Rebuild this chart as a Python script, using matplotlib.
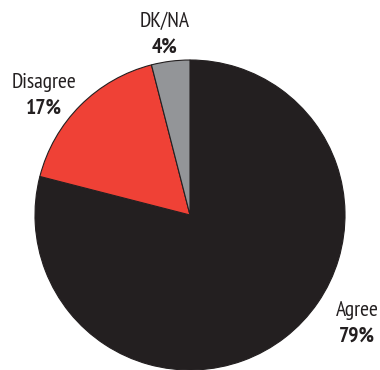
import matplotlib
matplotlib.use("Agg")
import matplotlib.pyplot as plt

# Survey response shares (%)
labels = ['Agree', 'Disagree', 'DK/NA']
shares = [79, 17, 4]
colors = ['#231f20', '#ef4136', '#939598']

W, H = 380, 370
FONT = ['PT Sans Narrow', 'DejaVu Sans']


def make_pie():
    fig = plt.figure(figsize=(W / 100, H / 100), dpi=100)
    ax = fig.add_axes([0, 0, 1, 1])

    # pie centre / radius in pixel units (y measured from the bottom)
    cx, cy, r = 190, H - 215, 155
    ax.pie(shares, colors=colors, startangle=90, counterclock=False,
           center=(cx, cy), radius=r,
           wedgeprops=dict(edgecolor='#231f20', linewidth=0.8))
    ax.set_xlim(0, W)
    ax.set_ylim(0, H)
    ax.axis('off')

    # label positions (x, y from top) for name and percentage
    spots = {
        'Agree': (357, 310, 336),
        'Disagree': (44, 83, 108),
        'DK/NA': (165, 21, 47),
    }
    for name, val in zip(labels, shares):
        x, y1, y2 = spots[name]
        ax.text(x, H - y1, name, ha='center', va='center', fontsize=15.5,
                family=FONT, color='#231f20')
        ax.text(x, H - y2, f'{val}%', ha='center', va='center', fontsize=15.5,
                family=FONT, fontweight='bold', color='#231f20')

    fig.savefig('out.png', dpi=100)


if __name__ == "__main__":
    make_pie()
